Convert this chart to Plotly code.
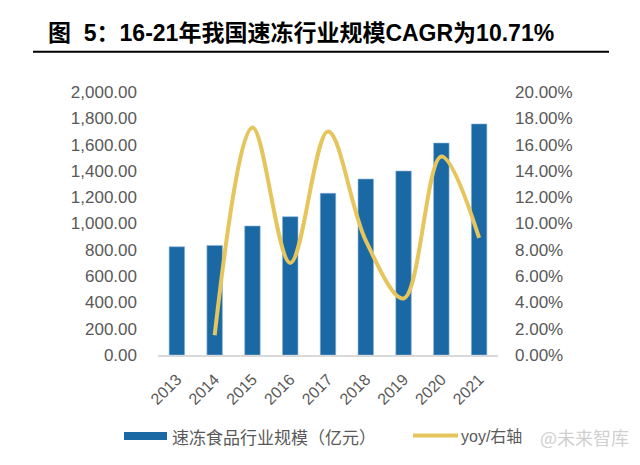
import plotly.graph_objects as go

years = ["2013", "2014", "2015", "2016", "2017", "2018", "2019", "2020", "2021"]
scale = [823, 833, 981, 1052, 1230, 1338, 1399, 1612, 1757]  # 亿元
yoy_years = ["2014", "2015", "2016", "2017", "2018", "2019", "2020", "2021"]
yoy = [1.5, 17.3, 7.0, 17.0, 8.7, 4.3, 15.1, 8.9]  # %

left_ticks = [0, 200, 400, 600, 800, 1000, 1200, 1400, 1600, 1800, 2000]
right_ticks = [0, 2, 4, 6, 8, 10, 12, 14, 16, 18, 20]
right_labels = ["0.00%", "2.00%", "4.00%", "6.00%", "8.00%", "10.00%",
                "12.00%", "14.00%", "16.00%", "18.00%", "20.00%"]

W, H = 640, 465
L, R, T, B = 158, 498, 92, 355

def px(x):
    return (x - L) / (R - L)

def py(y):
    return (B - y) / (B - T)

BAR = "#1B69A4"
LINE = "#E5C55C"
TICK = "#595959"
FONT = "Liberation Sans, Arial, Noto Sans CJK SC, sans-serif"

fig = go.Figure()
fig.add_trace(go.Bar(
    x=years, y=scale, name="速冻食品行业规模（亿元）",
    marker=dict(color=BAR, line=dict(color="#8fb6d6", width=0.6)),
    yaxis="y",
))
fig.add_trace(go.Scatter(
    x=yoy_years, y=yoy, name="yoy/右轴", mode="lines",
    line=dict(color=LINE, width=4, shape="spline", smoothing=1.0),
    yaxis="y2",
))

fig.update_layout(
    width=W, height=H,
    margin=dict(l=L, r=W - R, t=T, b=H - B, pad=0, autoexpand=False),
    paper_bgcolor="white", plot_bgcolor="white",
    showlegend=False,
    bargap=0.59,
    font=dict(family=FONT, color=TICK),
    xaxis=dict(
        type="category", tickangle=-45, showgrid=False, automargin=False,
        showline=True, linecolor="#D9D9D9", linewidth=1.5,
        ticks="", tickfont=dict(size=16, color=TICK), ticklabelstandoff=7,
    ),
    yaxis=dict(
        range=[0, 2000], tickvals=left_ticks, tickformat=",.2f", automargin=False,
        showgrid=False, zeroline=False, showline=False, ticks="",
        tickfont=dict(size=17, color=TICK), ticklabelstandoff=20,
    ),
    yaxis2=dict(
        range=[0, 20], tickvals=right_ticks, ticktext=right_labels, automargin=False,
        overlaying="y", side="right",
        showgrid=False, zeroline=False, showline=False, ticks="",
        tickfont=dict(size=17, color=TICK), ticklabelstandoff=16,
    ),
)

shapes = [
    # title underline
    dict(type="line", xref="paper", yref="paper", x0=px(33), x1=px(609), y0=py(51.7), y1=py(51.7),
         line=dict(color="black", width=2)),
    # legend: bar swatch
    dict(type="rect", xref="paper", yref="paper", x0=px(124), x1=px(167), y0=py(432), y1=py(440),
         fillcolor=BAR, line=dict(width=0)),
    # legend: line swatch
    dict(type="line", xref="paper", yref="paper", x0=px(413), x1=px(458), y0=py(435.5), y1=py(435.5),
         line=dict(color=LINE, width=4)),
]
fig.update_layout(shapes=shapes)

annotations = [
    dict(text="<b>图  5：16-21年我国速冻行业规模CAGR为10.71%</b>", xref="paper", yref="paper",
         x=px(46), y=py(33), xanchor="left", yanchor="middle", showarrow=False,
         font=dict(size=23, color="black", family=FONT)),
    dict(text="速冻食品行业规模（亿元）", xref="paper", yref="paper",
         x=px(170), y=py(436), xanchor="left", yanchor="middle", showarrow=False,
         font=dict(size=17, color=TICK, family="Noto Sans CJK SC, sans-serif")),
    dict(text="yoy/右轴", xref="paper", yref="paper",
         x=px(459), y=py(436), xanchor="left", yanchor="middle", showarrow=False,
         font=dict(size=16, color=TICK, family=FONT)),
    dict(text="@未来智库", xref="paper", yref="paper",
         x=px(538), y=py(437), xanchor="left", yanchor="middle", showarrow=False,
         font=dict(size=18, color="#D0D0D0", family="Noto Sans CJK SC, sans-serif")),
]
fig.update_layout(annotations=annotations)

fig.write_html("out.html", config={"displayModeBar": False},
               post_script="document.body.style.margin='0';")
